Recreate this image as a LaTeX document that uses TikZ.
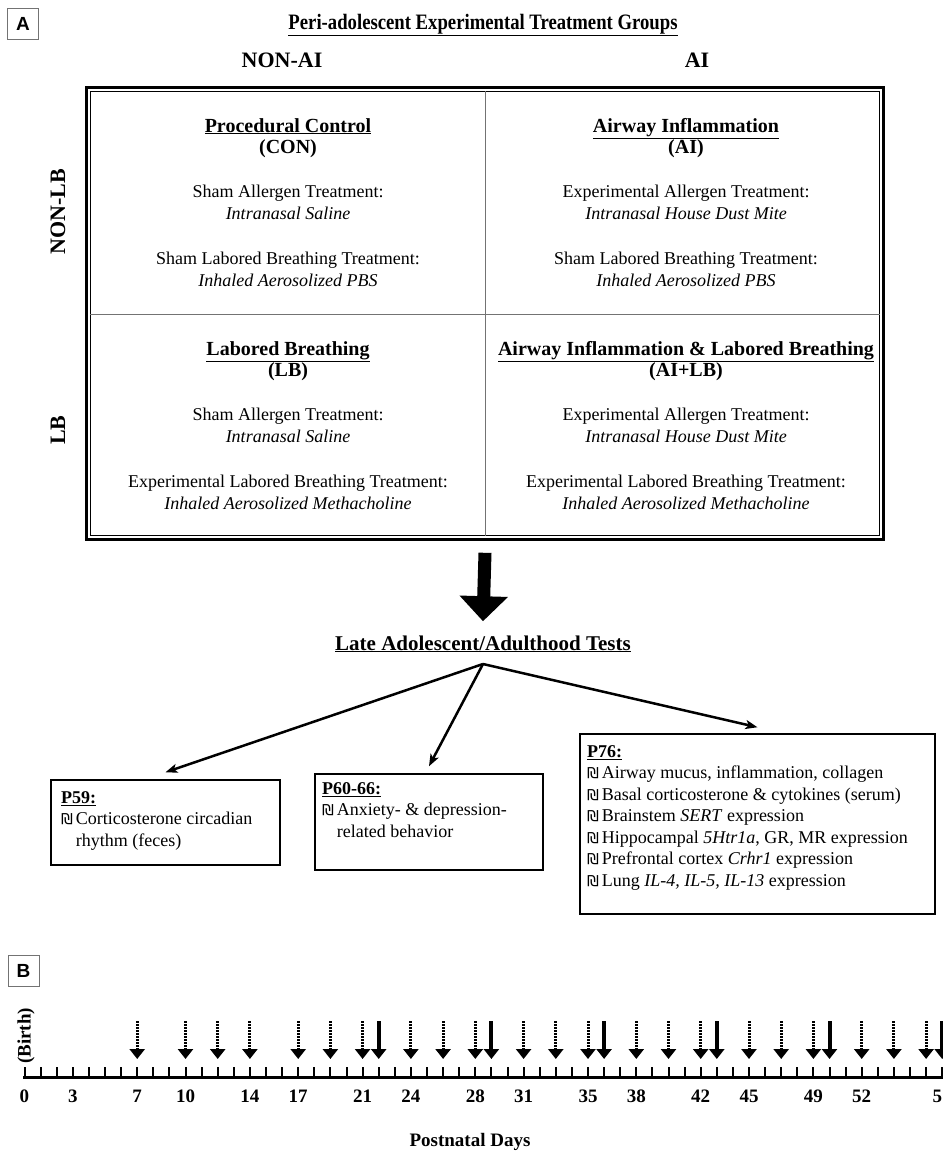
\documentclass[tikz,border=0pt]{standalone}
\usepackage{fontspec}
\setmainfont{Liberation Serif}
\newfontfamily\panelfont{Liberation Sans}
\newfontfamily\bulletfont{DejaVu Sans}
\usepackage{tikz}
\usetikzlibrary{arrows.meta}
\newcommand{\ulhead}[1]{\underline{\textbf{#1}}}
\newcommand{\bul}{{\bulletfont\fontsize{15}{15}\selectfont ₪}\hspace{3pt}}
\newcommand{\groupcell}[9]{%
    \node[cellhead] (#1head) at (#2,#3) {\underline{#4}};
    \node[cellhead] (#1abbr) at (#2,#3+21) {(#5)};
    \node[celltext] (#1lab1) at (#2,#3+65) {#6};
    \node[celltext] (#1trt1) at (#2,#3+87) {\textit{#7}};
    \node[celltext] (#1lab2) at (#2,#3+132) {#8};
    \node[celltext] (#1trt2) at (#2,#3+154) {\textit{#9}};
}
\tikzset{
    panel/.style={draw=black!55, line width=0.8pt, minimum width=31pt, minimum height=31pt, inner sep=0pt, font=\panelfont\bfseries\fontsize{19}{19}\selectfont},
    heading/.style={anchor=base, inner sep=2pt, font=\bfseries\fontsize{22}{26}\selectfont},
    cellhead/.style={anchor=base, font=\bfseries\fontsize{20}{22}\selectfont},
    celltext/.style={anchor=base, font=\fontsize{18}{22}\selectfont},
    gridframe/.style={draw, line width=1.6pt, inner sep=0pt},
    gridline/.style={line width=0.8pt},
    divider/.style={draw=black!55, line width=1pt},
    testbox/.style={draw, line width=1.5pt, inner sep=0pt},
    testtext/.style={anchor=north west, align=left, inner sep=0pt, font=\fontsize{18}{21.5}\selectfont},
    testarrow/.style={line width=2.5pt, -{Stealth[length=12pt, width=9pt, inset=3pt]}},
    bigarrow/.style={line width=13pt, -{Triangle[length=25pt, width=47pt]}},
    daytick/.style={line width=2pt},
    axisline/.style={line width=3pt},
    dotarrow/.style={line width=3pt, dash pattern=on 1.6pt off 1.4pt, -{Triangle[length=10pt, width=15pt]}},
    solidarrow/.style={line width=4pt, -{Triangle[length=10pt, width=15pt]}},
    daylabel/.style={font=\bfseries\fontsize{19}{19}\selectfont},
}

\begin{document}
\begin{tikzpicture}[x=1pt, y=-1pt]
    \useasboundingbox (0,0) rectangle (943,1152);
    \clip (0,0) rectangle (943,1152);

    \node[panel] (panA) at (23,24) {A};
    \node[heading] (title) at (483,29) {\scalebox{0.85}[1]{\underline{Peri-adolescent Experimental Treatment Groups}}};
    \node[heading] (nonai) at (282,67) {NON-AI};
    \node[heading] (ai) at (697,67) {AI};
    \node[heading, rotate=90, anchor=center] (nonlb) at (58,212) {NON-LB};
    \node[heading, rotate=90, anchor=center] (lb) at (58,430) {LB};

    \node[gridframe, minimum width=798pt, minimum height=453pt] (grid) at (485,313.5) {};
    \draw[gridline] ([shift={(2.5,2.5)}]grid.north west) rectangle ([shift={(-2.5,-2.5)}]grid.south east);
    \draw[gridline] ([shift={(5,5)}]grid.north west) rectangle ([shift={(-5,-5)}]grid.south east);
    \draw[divider] ([yshift=-5pt]grid.north) -- ([yshift=5pt]grid.south);
    \draw[divider] ([shift={(5,0.5)}]grid.west) -- ([shift={(-5,0.5)}]grid.east);

    \groupcell{con}{288}{132}{Procedural Control}{CON}{Sham Allergen Treatment:}{Intranasal Saline}{Sham Labored Breathing Treatment:}{Inhaled Aerosolized PBS}
    \groupcell{ai}{686}{132}{Airway Inflammation}{AI}{Experimental Allergen Treatment:}{Intranasal House Dust Mite}{Sham Labored Breathing Treatment:}{Inhaled Aerosolized PBS}
    \groupcell{lb}{288}{355}{Labored Breathing}{LB}{Sham Allergen Treatment:}{Intranasal Saline}{Experimental Labored Breathing Treatment:}{Inhaled Aerosolized Methacholine}
    \groupcell{ailb}{686}{355}{Airway Inflammation \& Labored Breathing}{AI+LB}{Experimental Allergen Treatment:}{Intranasal House Dust Mite}{Experimental Labored Breathing Treatment:}{Inhaled Aerosolized Methacholine}

    \node[heading, font=\bfseries\fontsize{21}{24}\selectfont] (tests) at (483,650) {\underline{Late Adolescent/Adulthood Tests}};
    \draw[bigarrow] ([yshift=-12pt]grid.south) -- ([yshift=12pt]tests.north);

    \node[testbox, minimum width=229pt, minimum height=85pt] (p59) at (165.5,822.5) {};
    \node[testbox, minimum width=228pt, minimum height=96pt] (p60) at (429,822) {};
    \node[testbox, minimum width=355pt, minimum height=180pt] (p76) at (757.5,824) {};
    \node[testtext] (p59txt) at (61,791) {\ulhead{P59:}\\\bul Corticosterone circadian\\\hphantom{\bul}rhythm (feces)};
    \node[testtext] (p60txt) at (322,782) {\ulhead{P60-66:}\\\bul Anxiety- \& depression-\\\hphantom{\bul}related behavior};
    \node[testtext] (p76txt) at (587,745) {\ulhead{P76:}\\
        \bul Airway mucus, inflammation, collagen\\
        \bul Basal corticosterone \& cytokines (serum)\\
        \bul Brainstem \textit{SERT} expression\\
        \bul Hippocampal \textit{5Htr1a}, GR, MR expression\\
        \bul Prefrontal cortex \textit{Crhr1} expression\\
        \bul Lung \textit{IL-4, IL-5, IL-13} expression};

    \coordinate (apex) at (483,664);
    \draw[testarrow] (apex) -- ([yshift=7pt]p59.north);
    \draw[testarrow] (apex) -- ([yshift=7pt]p60.north);
    \draw[testarrow] (apex) -- ([yshift=6pt]p76.north);

    \node[panel] (panB) at (23.5,971) {B};
    \foreach \d in {0,...,57}
        \coordinate (d\d) at ({24.5+16.1*\d},1077);
    \draw[axisline] ([xshift=-1.5pt]d0) -- ([xshift=20pt]d57);
    \foreach \d in {0,...,57}
        \draw[daytick] (d\d) -- ++(0,-10);
    \foreach \d in {7,10,12,14,17,19,21,24,26,28,31,33,35,38,40,42,45,47,49,52,54,56}
        \draw[dotarrow] ([yshift=56pt]d\d) -- ([yshift=18pt]d\d);
    \foreach \d in {22,29,36,43,50,57}
        \draw[solidarrow] ([yshift=56pt]d\d) -- ([yshift=18pt]d\d);
    \foreach \d in {0,3,7,10,14,17,21,24,28,31,35,38,42,45,49,52,57}
        \node[daylabel] (l\d) at ([yshift=-19pt]d\d) {\d};
    \node[daylabel, rotate=90] (birth) at (26,1036) {(Birth)};
    \node[daylabel] (days) at (470,1142) {Postnatal Days};
\end{tikzpicture}
\end{document}
